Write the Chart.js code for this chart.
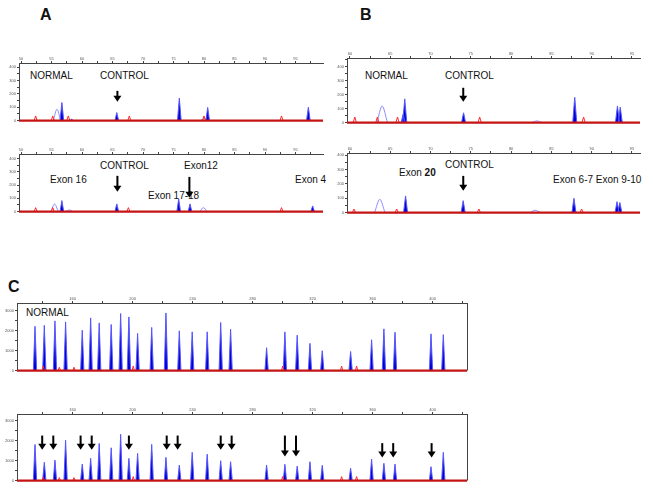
<!DOCTYPE html>
<html><head><meta charset="utf-8">
<script src="https://cdn.jsdelivr.net/npm/chart.js@4"></script>
<style>
body{margin:0;background:#fff;width:653px;height:491px;position:relative;overflow:hidden;font-family:"Liberation Sans",Arial,sans-serif;}
canvas{position:absolute;z-index:2;}
.t{position:absolute;font-size:10px;line-height:12px;color:#111;white-space:nowrap;z-index:1;}
.p{position:absolute;font-size:16px;font-weight:bold;line-height:16px;color:#111;}
</style></head><body>
<div class="p" style="left:40px;top:7px">A</div>
<div class="p" style="left:360px;top:7px">B</div>
<div class="p" style="left:8px;top:279px">C</div>

<div class="t" style="left:30px;top:70px">NORMAL</div>
<div class="t" style="left:100px;top:70px">CONTROL</div>
<div class="t" style="left:100px;top:160px">CONTROL</div>
<div class="t" style="left:50px;top:174px">Exon 16</div>
<div class="t" style="left:184px;top:160px">Exon12</div>
<div class="t" style="left:148px;top:190px">Exon 17-18</div>
<div class="t" style="left:295px;top:174px">Exon 4</div>

<div class="t" style="left:365px;top:70px">NORMAL</div>
<div class="t" style="left:445px;top:70px">CONTROL</div>
<div class="t" style="left:399px;top:167px">Exon <b>20</b></div>
<div class="t" style="left:445px;top:159px">CONTROL</div>
<div class="t" style="left:553px;top:174px">Exon 6-7 Exon 9-10</div>

<div class="t" style="left:26px;top:307px">NORMAL</div>

<script>
// ---- tick labels ----
const aXTicks = [50, 55, 60, 65, 70, 75, 80, 85, 90, 95];
const bXTicks = [60, 65, 70, 75, 80, 85, 90, 95];
const cXTicks = [160, 200, 240, 280, 320, 360, 400];
const abYTicks = [0, 100, 200, 300, 400];
const cYTicks = [0, 1000, 2000, 3000];

// ---- Panel A, normal ----
const aNormBluePos = [56.7, 58.3, 65.7, 75.95, 80.6, 97.1];
const aNormBlueHt  = [135, 10, 60, 168, 98, 100];
const aNormOpenPos = [55.9, 80.0];
const aNormOpenHt  = [85, 15];
const aNormRedPos  = [52.4, 55.2, 57.75, 67.75, 80.0, 92.7];
const aNormRedHt   = [35, 35, 35, 35, 35, 35];
const aNormArrowX = [65.8], aNormArrowTop = [222], aNormArrowTip = [141];

// ---- Panel A, patient ----
const aPatBluePos = [56.7, 65.7, 75.85, 77.7, 97.8];
const aPatBlueHt  = [83, 58, 96, 58, 43];
const aPatOpenPos = [55.5, 57.9, 79.9];
const aPatOpenHt  = [58, 12, 30];
const aPatRedPos  = [52.4, 55.2, 67.6, 92.7];
const aPatRedHt   = [30, 30, 30, 30];
const aPatArrowX = [65.8, 77.6], aPatArrowTop = [270, 262], aPatArrowTip = [150, 105];

// ---- Panel B, normal ----
const bNormBluePos = [66.6, 66.8, 74.1, 87.9, 93.2, 93.55];
const bNormBlueHt  = [60, 170, 70, 181, 118, 110];
const bNormOpenPos = [64.0, 83.2];
const bNormOpenHt  = [118, 12];
const bNormRedPos  = [60.6, 63.4, 65.9, 76.1, 89.0];
const bNormRedHt   = [40, 40, 40, 40, 40];
const bNormArrowX = [74.06], bNormArrowTop = [249], bNormArrowTip = [149];

// ---- Panel B, patient ----
const bPatBluePos = [66.9, 74.05, 87.8, 93.15, 93.5];
const bPatBlueHt  = [116, 83, 99, 76, 70];
const bPatOpenPos = [63.7, 83.0];
const bPatOpenHt  = [92, 16];
const bPatRedPos  = [60.5, 65.8, 76.0, 88.75];
const bPatRedHt   = [25, 25, 25, 25];
const bPatArrowX = [74.06], bPatArrowTop = [255], bPatArrowTip = [152];

// ---- Panel C ----
const cPeakPos = [134.9, 141.1, 148.2, 155.3, 166.4, 172.0, 177.7, 185.7, 192.0, 197.5, 203.3, 212.7, 222.2, 231.1, 239.7, 249.7, 258.7, 265.3, 289.3, 301.5, 309.7, 318.2, 326.4, 345.3, 359.3, 367.5, 374.9, 398.9, 407.1];
const cNormHt = [2230, 2280, 2500, 2450, 2030, 2650, 2400, 2320, 2870, 2700, 1870, 2170, 2900, 2000, 1950, 1950, 2420, 2080, 1150, 1950, 1780, 1370, 1000, 960, 1550, 2100, 1930, 1850, 1810];
const cPatHt  = [1820, 920, 1030, 2030, 830, 1120, 1870, 1650, 2330, 1120, 1370, 1820, 1170, 780, 1420, 1330, 1000, 950, 780, 820, 730, 950, 770, 620, 1080, 870, 830, 700, 1420];
const cRedPos = [140.4, 151.1, 160.9, 200.4, 300.0, 339.3, 349.3];
const cNormRedHt = [230, 170, 170, 230, 230, 230, 230];
const cPatRedHt  = [170, 150, 150, 200, 200, 200, 200];
const cPatArrowX   = [139.7, 147.1, 165.3, 172.7, 197.5, 222.7, 230.0, 258.7, 266.0, 301.5, 308.9, 366.4, 373.7, 399.3];
const cPatArrowTop = [2265, 2265, 2265, 2265, 2265, 2265, 2265, 2265, 2265, 2265, 2265, 1885, 1885, 1885];
const cPatArrowTip = [1550, 1550, 1550, 1550, 1550, 1550, 1550, 1550, 1550, 1215, 1215, 1165, 1165, 1165];

function spikes(pos, ht, hw) {
  const pts = [];
  pos.forEach((p, i) => {
    pts.push({x: p - hw, y: 0}, {x: p, y: ht[i]}, {x: p + hw, y: 0}, {x: p + hw, y: null});
  });
  return pts;
}
function arrows(xs, tops, tips) {
  return xs.map((x, i) => ({x: x, top: tops[i], tip: tips[i]}));
}
// major ticks from the label list plus a minor tick half-way between labels
function tickValues(labels, min, max) {
  const half = (labels[1] - labels[0]) / 2;
  const out = [];
  let v = labels[0];
  while (v - half >= min) v -= half;
  for (; v <= max + 1e-9; v += half) out.push({value: Math.round(v * 1000) / 1000});
  return out;
}

const markPlugin = {
  id: 'marks',
  afterDatasetsDraw(chart, args, opts) {
    const ctx = chart.ctx, xs = chart.scales.x, ys = chart.scales.y, ca = chart.chartArea;
    ctx.save();
    if (opts.rightBorder) {
      ctx.strokeStyle = '#444'; ctx.lineWidth = 1;
      ctx.beginPath(); ctx.moveTo(Math.round(ca.right) + 0.5, ca.top); ctx.lineTo(Math.round(ca.right) + 0.5, ca.bottom); ctx.stroke();
    }
    ctx.fillStyle = '#000';
    (opts.items || []).forEach(a => {
      const px = xs.getPixelForValue(a.x), top = ys.getPixelForValue(a.top), tip = ys.getPixelForValue(a.tip);
      const hl = 6, hwid = 4;
      ctx.fillRect(px - 1, top, 2, tip - hl - top + 0.5);
      ctx.beginPath(); ctx.moveTo(px - hwid, tip - hl); ctx.lineTo(px + hwid, tip - hl); ctx.lineTo(px, tip); ctx.closePath(); ctx.fill();
    });
    ctx.restore();
  }
};

function panel(cfg) {
  const YW = 12, XH = 8, RP = 3, BP = 3;
  const W = Math.round(cfg.right - cfg.left + YW + RP), H = Math.round(cfg.bottom - cfg.top + XH + BP);
  const c = document.createElement('canvas');
  c.width = W; c.height = H;
  c.style.left = (cfg.left - YW) + 'px'; c.style.top = (cfg.top - XH) + 'px';
  c.style.width = W + 'px'; c.style.height = H + 'px';
  document.body.appendChild(c);
  const ds = [
    {data: [{x: cfg.xMin, y: 0}, {x: cfg.xMax, y: 0}], borderColor: '#c41414', borderWidth: 2.2, order: 0, clip: false},
    {data: spikes(cfg.redPos, cfg.redHt, cfg.redHw), borderColor: '#ff2a2a', borderWidth: 1, fill: false, order: 1},
    {data: spikes(cfg.bluePos, cfg.blueHt, cfg.blueHw), borderColor: '#5656ff', backgroundColor: '#0000d0', fill: 'origin', borderWidth: 1, order: 2}
  ];
  if (cfg.openPos) ds.push({data: spikes(cfg.openPos, cfg.openHt, cfg.openHw), borderColor: '#8a8aff', borderWidth: 1, fill: false, cubicInterpolationMode: 'monotone', order: 3});
  const axisCommon = {
    border: {display: true, color: '#444', width: 1},
    grid: {display: true, drawOnChartArea: false, drawTicks: true, tickLength: 2, color: '#444'}
  };
  new Chart(c, {
    type: 'line',
    data: {datasets: ds},
    options: {
      responsive: false, animation: false, devicePixelRatio: 1,
      layout: {padding: {left: 0, top: 0, right: RP, bottom: BP}},
      elements: {point: {radius: 0}, line: {tension: 0}},
      plugins: {legend: {display: false}, tooltip: {enabled: false},
        marks: {items: cfg.arrows || [], rightBorder: !!cfg.rightBorder}},
      scales: {
        x: Object.assign({}, axisCommon, {
          type: 'linear', position: 'top', min: cfg.xMin, max: cfg.xMax,
          afterFit: s => { s.height = XH; },
          afterBuildTicks: s => { s.ticks = tickValues(cfg.xLabels, cfg.xMin, cfg.xMax); },
          ticks: {autoSkip: false, maxRotation: 0, minRotation: 0,
            font: {size: 4, family: 'Liberation Sans'}, color: '#555', padding: 0,
            callback: v => cfg.xLabels.includes(v) ? String(v) : ''}
        }),
        y: Object.assign({}, axisCommon, {
          type: 'linear', position: 'left', min: 0, max: cfg.yMax,
          afterFit: s => { s.width = YW; },
          afterBuildTicks: s => { s.ticks = tickValues(cfg.yLabels, 0, cfg.yMax); },
          ticks: {autoSkip: false,
            font: {size: 4, family: 'Liberation Sans'}, color: '#555', padding: 1,
            callback: v => cfg.yLabels.includes(v) ? String(v) : ''}
        })
      }
    },
    plugins: [markPlugin]
  });
}

// Panel A
const aCommon = {left: 19, right: 323, xMin: 49.67, xMax: 99.5, xLabels: aXTicks, yLabels: abYTicks, blueHw: 0.3, openHw: 0.6, redHw: 0.25};
panel(Object.assign({}, aCommon, {top: 63, bottom: 121, yMax: 430,
  bluePos: aNormBluePos, blueHt: aNormBlueHt, openPos: aNormOpenPos, openHt: aNormOpenHt, redPos: aNormRedPos, redHt: aNormRedHt,
  arrows: arrows(aNormArrowX, aNormArrowTop, aNormArrowTip)}));
panel(Object.assign({}, aCommon, {top: 154, bottom: 212, yMax: 435,
  bluePos: aPatBluePos, blueHt: aPatBlueHt, openPos: aPatOpenPos, openHt: aPatOpenHt, redPos: aPatRedPos, redHt: aPatRedHt,
  arrows: arrows(aPatArrowX, aPatArrowTop, aPatArrowTip)}));

// Panel B
const bCommon = {left: 347, right: 640, xMin: 59.63, xMax: 96.0, xLabels: bXTicks, yLabels: abYTicks, blueHw: 0.25, openHw: 0.65, redHw: 0.2};
panel(Object.assign({}, bCommon, {top: 58, bottom: 123, yMax: 462,
  bluePos: bNormBluePos, blueHt: bNormBlueHt, openPos: bNormOpenPos, openHt: bNormOpenHt, redPos: bNormRedPos, redHt: bNormRedHt,
  arrows: arrows(bNormArrowX, bNormArrowTop, bNormArrowTip)}));
panel(Object.assign({}, bCommon, {top: 153, bottom: 213, yMax: 414,
  bluePos: bPatBluePos, blueHt: bPatBlueHt, openPos: bPatOpenPos, openHt: bPatOpenHt, redPos: bPatRedPos, redHt: bPatRedHt,
  arrows: arrows(bPatArrowX, bPatArrowTop, bPatArrowTip)}));

// Panel C
const cCommon = {left: 17, right: 467, xMin: 122.9, xMax: 422.9, xLabels: cXTicks, yLabels: cYTicks, blueHw: 1.1, redHw: 0.8, rightBorder: true};
panel(Object.assign({}, cCommon, {top: 303, bottom: 371, yMax: 3400,
  bluePos: cPeakPos, blueHt: cNormHt, redPos: cRedPos, redHt: cNormRedHt}));
panel(Object.assign({}, cCommon, {top: 414, bottom: 481, yMax: 3350,
  bluePos: cPeakPos, blueHt: cPatHt, redPos: cRedPos, redHt: cPatRedHt,
  arrows: arrows(cPatArrowX, cPatArrowTop, cPatArrowTip)}));
</script>
</body></html>
